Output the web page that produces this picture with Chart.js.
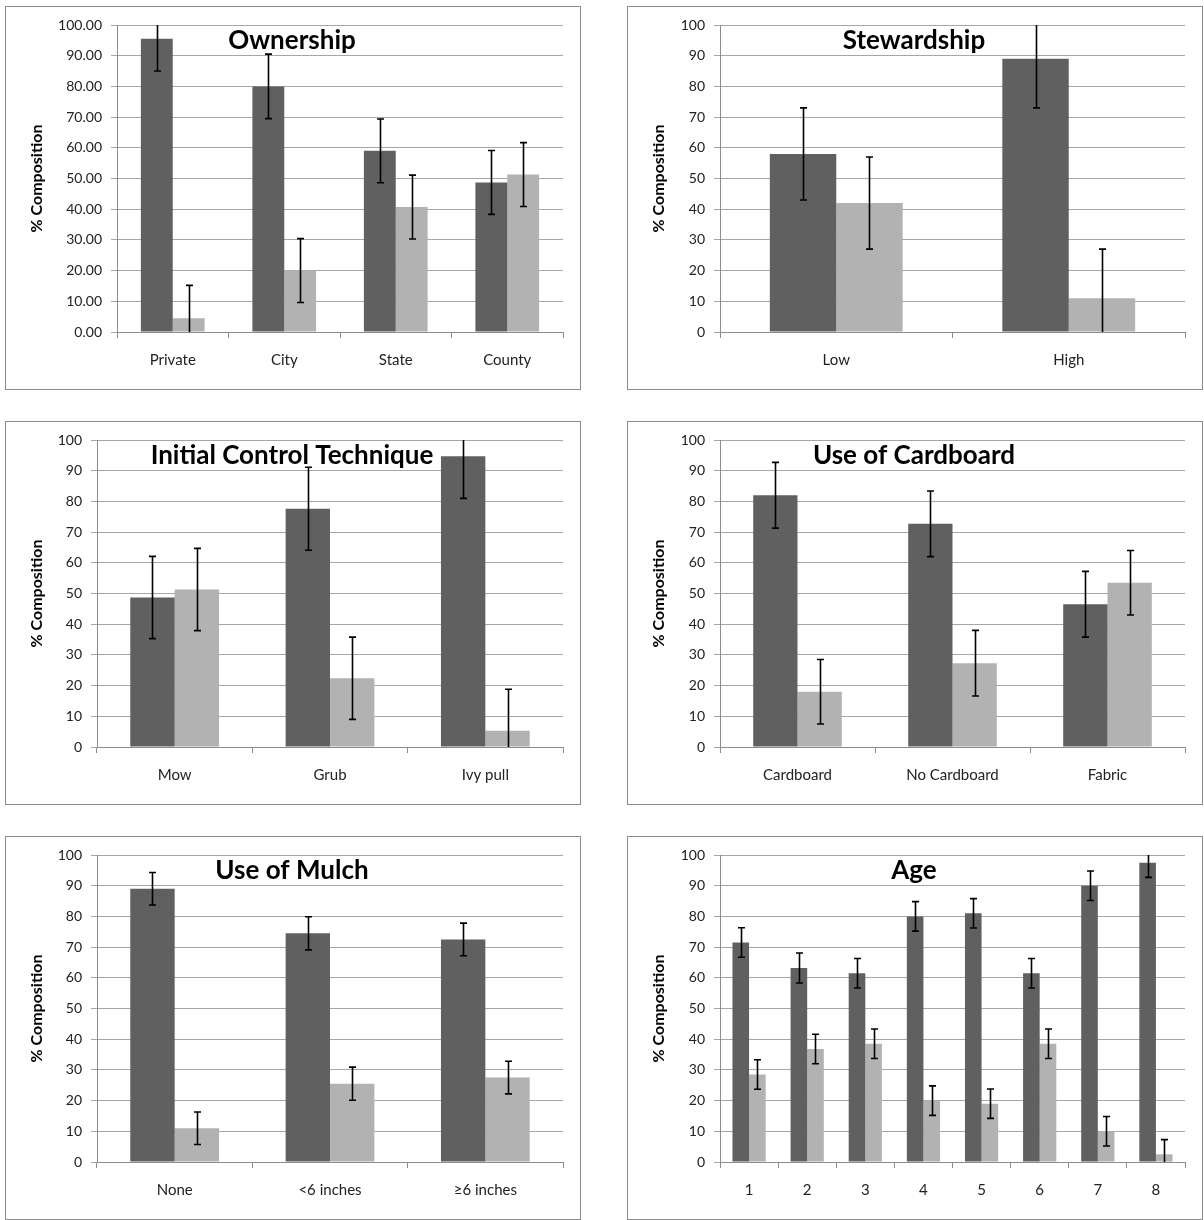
<!DOCTYPE html>
<html lang="en">
<head>
    <meta charset="UTF-8">
    <title>Composition panels</title>
    <script src="https://cdn.jsdelivr.net/npm/chart.js"></script>
    <style>
        body {
            margin: 0;
            background: #ffffff;
            width: 1204px;
            height: 1220px;
            position: relative;
            overflow: hidden;
        }
        .panel {
            position: absolute;
            width: 574px;
            height: 382px;
            border: 1px solid #8c8c8c;
            background: #ffffff;
        }
        .panel canvas {
            display: block;
        }
    </style>
</head>
<body>
    <div class="panel" style="left:5px; top:6px;"><canvas id="chart1" width="574" height="382"></canvas></div>
    <div class="panel" style="left:627px; top:6px;"><canvas id="chart2" width="574" height="382"></canvas></div>
    <div class="panel" style="left:5px; top:421px;"><canvas id="chart3" width="574" height="382"></canvas></div>
    <div class="panel" style="left:627px; top:421px;"><canvas id="chart4" width="574" height="382"></canvas></div>
    <div class="panel" style="left:5px; top:836px;"><canvas id="chart5" width="574" height="382"></canvas></div>
    <div class="panel" style="left:627px; top:836px;"><canvas id="chart6" width="574" height="382"></canvas></div>

    <script>
        // values (dark = first series, light = second series)
        const ownershipCats = ['Private', 'City', 'State', 'County'];
        const ownershipDark = [95.5, 80.0, 59.0, 48.7];
        const ownershipLight = [4.5, 20.0, 40.7, 51.3];
        const ownershipDarkErr = [10.5, 10.5, 10.4, 10.4];
        const ownershipLightErr = [10.7, 10.4, 10.4, 10.4];

        const stewardshipCats = ['Low', 'High'];
        const stewardshipDark = [58.0, 89.0];
        const stewardshipLight = [42.0, 11.0];
        const stewardshipDarkErr = [15.0, 16.0];
        const stewardshipLightErr = [15.0, 16.0];

        const controlCats = ['Mow', 'Grub', 'Ivy pull'];
        const controlDark = [48.7, 77.6, 94.7];
        const controlLight = [51.3, 22.4, 5.3];
        const controlDarkErr = [13.4, 13.5, 13.7];
        const controlLightErr = [13.4, 13.4, 13.5];

        const cardboardCats = ['Cardboard', 'No Cardboard', 'Fabric'];
        const cardboardDark = [82.0, 72.7, 46.5];
        const cardboardLight = [18.0, 27.3, 53.5];
        const cardboardDarkErr = [10.7, 10.7, 10.7];
        const cardboardLightErr = [10.5, 10.7, 10.5];

        const mulchCats = ['None', '<6 inches', '\u22656 inches'];
        const mulchDark = [89.0, 74.5, 72.5];
        const mulchLight = [11.0, 25.5, 27.5];
        const mulchDarkErr = [5.3, 5.4, 5.3];
        const mulchLightErr = [5.3, 5.4, 5.3];

        const ageCats = ['1', '2', '3', '4', '5', '6', '7', '8'];
        const ageDark = [71.5, 63.2, 61.5, 80.0, 81.0, 61.5, 90.0, 97.5];
        const ageLight = [28.5, 36.8, 38.5, 20.0, 19.0, 38.5, 10.0, 2.5];
        const ageDarkErr = [4.8, 4.9, 4.8, 4.8, 4.8, 4.8, 4.8, 4.8];
        const ageLightErr = [4.8, 4.8, 4.8, 4.8, 4.8, 4.8, 4.8, 4.8];

        const DARK = '#606060';
        const LIGHT = '#b2b2b2';
        const FONT = 'Lato, "Open Sans", sans-serif';

        // Excel style error bars, clipped to the plot with no cap where clipped
        const errorBars = {
            id: 'errorBars',
            afterDatasetsDraw(chart) {
                const { ctx, chartArea } = chart;
                const y = chart.scales.y;
                chart.data.datasets.forEach((ds, i) => {
                    const meta = chart.getDatasetMeta(i);
                    meta.data.forEach((bar, j) => {
                        const v = ds.data[j];
                        const e = ds.errors[j];
                        let top = y.getPixelForValue(v + e);
                        let bot = y.getPixelForValue(v - e);
                        const capTop = top >= chartArea.top;
                        const capBot = bot <= chartArea.bottom;
                        top = Math.max(top, chartArea.top);
                        bot = Math.min(bot, chartArea.bottom);
                        const x = Math.round(bar.x) + 0.5;
                        ctx.save();
                        ctx.strokeStyle = '#000000';
                        ctx.lineWidth = 1.6;
                        ctx.beginPath();
                        ctx.moveTo(x, top);
                        ctx.lineTo(x, bot);
                        if (capTop) { ctx.moveTo(x - 3.5, top); ctx.lineTo(x + 3.5, top); }
                        if (capBot) { ctx.moveTo(x - 3.5, bot); ctx.lineTo(x + 3.5, bot); }
                        ctx.stroke();
                        ctx.restore();
                    });
                });
            }
        };

        // chart title sits inside the plot, centred on the panel
        const panelTitle = {
            id: 'panelTitle',
            afterDraw(chart, args, opts) {
                const { ctx } = chart;
                ctx.save();
                ctx.font = 'bold 26px ' + FONT;
                ctx.fillStyle = '#000000';
                ctx.textAlign = 'center';
                ctx.textBaseline = 'middle';
                ctx.fillText(opts.text, chart.width / 2 - 1, 34);
                ctx.restore();
            }
        };

        function makeChart(id, title, cats, dark, light, darkErr, lightErr, axisWidth, decimals) {
            return new Chart(document.getElementById(id), {
                type: 'bar',
                data: {
                    labels: cats,
                    datasets: [
                        { label: 'Series 1', data: dark, errors: darkErr, backgroundColor: DARK },
                        { label: 'Series 2', data: light, errors: lightErr, backgroundColor: LIGHT }
                    ]
                },
                options: {
                    responsive: false,
                    animation: false,
                    events: [],
                    layout: { padding: { left: 0, right: 17, top: 18, bottom: 0 } },
                    datasets: {
                        bar: { categoryPercentage: 2 / 3.5, barPercentage: 1.0 }
                    },
                    plugins: {
                        legend: { display: false },
                        tooltip: { enabled: false },
                        panelTitle: { text: title }
                    },
                    scales: {
                        x: {
                            afterFit: s => { s.height = 57; },
                            grid: {
                                offset: true,
                                drawOnChartArea: false,
                                drawTicks: true,
                                tickLength: 6,
                                color: '#8c8c8c'
                            },
                            border: { color: '#8c8c8c' },
                            ticks: {
                                color: '#222222',
                                padding: 13,
                                font: { family: FONT, size: 15 }
                            }
                        },
                        y: {
                            min: 0,
                            max: 100,
                            afterFit: s => { s.width = axisWidth; },
                            grid: { color: '#a6a6a6', tickLength: 6 },
                            border: { color: '#8c8c8c' },
                            ticks: {
                                stepSize: 10,
                                color: '#222222',
                                padding: 9,
                                font: { family: FONT, size: 14 },
                                callback: v => v.toFixed(decimals)
                            },
                            title: {
                                display: true,
                                text: '% Composition',
                                color: '#000000',
                                padding: { top: 21, bottom: 0 },
                                font: { family: FONT, size: 16, weight: 'bold' }
                            }
                        }
                    }
                },
                plugins: [errorBars, panelTitle]
            });
        }

        makeChart('chart1', 'Ownership', ownershipCats, ownershipDark, ownershipLight, ownershipDarkErr, ownershipLightErr, 111, 2);
        makeChart('chart2', 'Stewardship', stewardshipCats, stewardshipDark, stewardshipLight, stewardshipDarkErr, stewardshipLightErr, 92, 0);
        makeChart('chart3', 'Initial Control Technique', controlCats, controlDark, controlLight, controlDarkErr, controlLightErr, 91, 0);
        makeChart('chart4', 'Use of Cardboard', cardboardCats, cardboardDark, cardboardLight, cardboardDarkErr, cardboardLightErr, 92, 0);
        makeChart('chart5', 'Use of Mulch', mulchCats, mulchDark, mulchLight, mulchDarkErr, mulchLightErr, 91, 0);
        makeChart('chart6', 'Age', ageCats, ageDark, ageLight, ageDarkErr, ageLightErr, 92, 0);
    </script>
</body>
</html>
